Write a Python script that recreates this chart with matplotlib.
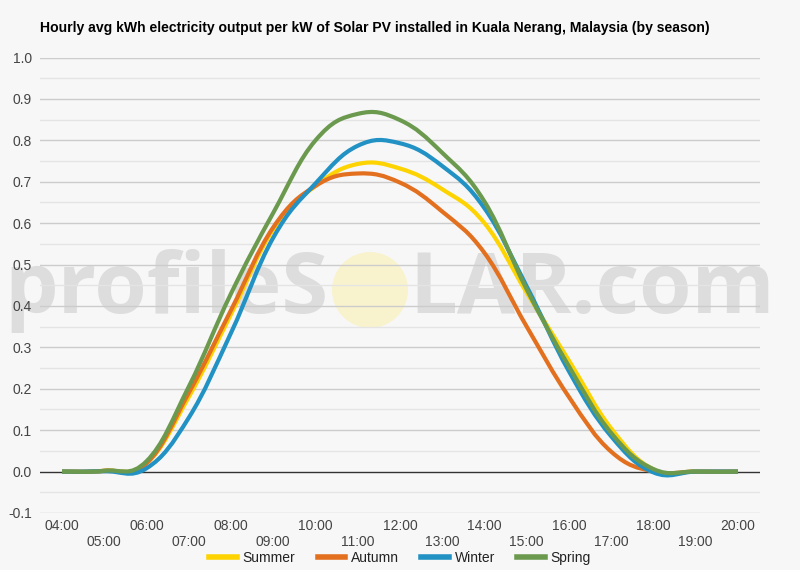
import matplotlib
matplotlib.use('Agg')
from matplotlib import pyplot as plt
from matplotlib.path import Path
from matplotlib.patches import PathPatch, Ellipse
from matplotlib.lines import Line2D

plt.rcParams['font.family'] = ['Liberation Sans', 'DejaVu Sans']

hours = list(range(4, 21))
hour_labels = ['%02d:00' % h for h in hours]

summer = [0, 0.002, 0.02, 0.18, 0.38, 0.585, 0.69, 0.743, 0.732, 0.682, 0.60, 0.432, 0.268, 0.104, 0.005, 0, 0]
autumn = [0, 0.002, 0.02, 0.19, 0.39, 0.59, 0.69, 0.72, 0.698, 0.628, 0.528, 0.35, 0.18, 0.048, 0, 0, 0]
winter = [0, 0.001, 0.008, 0.13, 0.335, 0.565, 0.696, 0.787, 0.793, 0.738, 0.636, 0.447, 0.242, 0.085, -0.002, 0, 0]
spring = [0, 0.002, 0.025, 0.205, 0.43, 0.625, 0.80, 0.864, 0.849, 0.77, 0.652, 0.44, 0.254, 0.093, 0.006, 0, 0]

series = [('Summer', summer, '#fdd402'),
          ('Autumn', autumn, '#e3701f'),
          ('Winter', winter, '#2291c3'),
          ('Spring', spring, '#6b9a4f')]

bg = '#f7f7f7'


def smooth_path(xs, ys, t=0.2):
    # bezier curve through every point, like a "function" curve
    n = len(xs)
    verts = [(xs[0], ys[0])]
    codes = [Path.MOVETO]
    for i in range(n - 1):
        i0 = max(i - 1, 0)
        i3 = min(i + 2, n - 1)
        c1 = (xs[i] + (xs[i + 1] - xs[i0]) * t, ys[i] + (ys[i + 1] - ys[i0]) * t)
        c2 = (xs[i + 1] - (xs[i3] - xs[i]) * t, ys[i + 1] - (ys[i3] - ys[i]) * t)
        verts += [c1, c2, (xs[i + 1], ys[i + 1])]
        codes += [Path.CURVE4] * 3
    return Path(verts, codes)


fig = plt.figure(figsize=(8, 5.7), dpi=100, facecolor=bg)
ax = fig.add_axes([0.05, 0.1, 0.9, 0.799])
ax.set_facecolor(bg)
ax.patch.set_alpha(0)

# watermark, behind the axes
fig.text(0.005, 0.49, 'profileS', fontsize=61, color='#dddddd', family='Open Sans',
         fontweight='bold', va='center', ha='left', zorder=-2)
fig.patches.append(Ellipse((370 / 800, 1 - 290 / 570), 76 / 800, 76 / 570, transform=fig.transFigure,
                           facecolor='#f8f3cc', edgecolor='none', zorder=-2))
fig.text(0.512, 0.49, 'LAR.com', fontsize=61, color='#dddddd', family='Open Sans',
         fontweight='bold', va='center', ha='left', zorder=-2)

for v in [i / 20 for i in range(-2, 21)]:
    if round(v, 2) == 0:
        continue
    major = abs(v * 10 - round(v * 10)) < 1e-6
    ax.axhline(v, color='#cccccc' if major else '#e4e4e4', lw=1, zorder=1)
ax.axhline(0, color='#333333', lw=1, zorder=2)

for name, vals, col in series:
    ax.add_patch(PathPatch(smooth_path(hours, vals), facecolor='none', edgecolor=col,
                           lw=3, capstyle='butt', zorder=3))

ax.set_xlim(4 - 22 / 42.25, 20 + 22 / 42.25)
ax.set_ylim(-0.1, 1.0)
ax.set_yticks([i / 10 for i in range(-1, 11)])
ax.set_yticklabels(['%.1f' % (i / 10) for i in range(-1, 11)])

ax.set_xticks(hours[::2])
ax.set_xticklabels(hour_labels[::2])
ax.set_xticks(hours[1::2], minor=True)
ax.set_xticklabels(hour_labels[1::2], minor=True)

ax.tick_params(axis='both', which='both', length=0, labelsize=10, colors='#444444')
ax.tick_params(axis='x', which='major', pad=4)
ax.tick_params(axis='x', which='minor', pad=15.5)
ax.tick_params(axis='y', pad=6)
for s in ax.spines.values():
    s.set_visible(False)

fig.text(0.05, 1 - 28 / 570, 'Hourly avg kWh electricity output per kW of Solar PV installed in Kuala Nerang, Malaysia (by season)',
         fontsize=10.1, fontweight='bold', color='#000000', va='center', ha='left')

handles = [Line2D([], [], color=c, lw=4) for n, v, c in series]
fig.legend(handles, [n for n, v, c in series], loc='center', bbox_to_anchor=(0.5, 1 - 558 / 570),
           ncol=4, frameon=False, fontsize=10, handlelength=2.0, handletextpad=0.4,
           columnspacing=1.6, labelcolor='#222222')

plt.savefig('out.png', dpi=100, facecolor=bg)
